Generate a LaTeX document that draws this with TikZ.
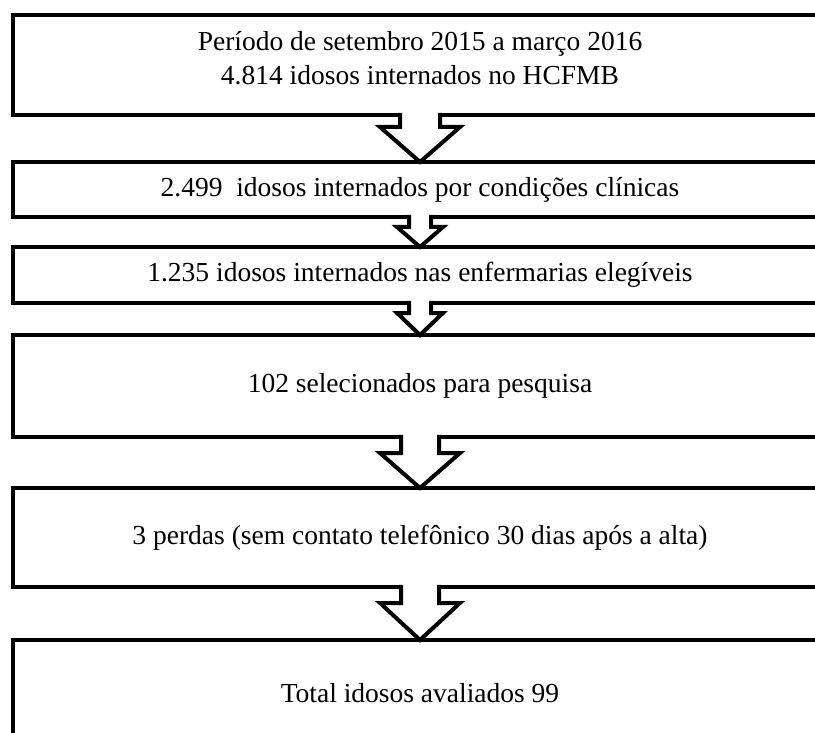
\documentclass[tikz,border=0pt]{standalone}
\usepackage{fontspec}
\setmainfont{Liberation Serif}
\usetikzlibrary{calc}

% block arrow from box #1 to box #2: stem half-width, head half-width, stem length
\newcommand{\flowarrow}[5]{%
  \draw[flowtip] ($(#1.south)+(-#3,-2.2)$) -- ($(#1.south)+(-#3,#5)$)
    -- ($(#1.south)+(-#4,#5)$) -- (#2.north) -- ($(#1.south)+(#4,#5)$)
    -- ($(#1.south)+(#3,#5)$) -- ($(#1.south)+(#3,-2.2)$);
}

\begin{document}
\begin{tikzpicture}[
    x=1pt, y=-1pt,
    stagebox/.style={draw, line width=4pt, fill=white, minimum width=815pt, inner sep=0pt, outer sep=0pt, align=center, font=\fontsize{27.5}{34}\selectfont},
    flowtip/.style={draw, line width=4pt, fill=white, line join=miter}
  ]
  \useasboundingbox (0,0) rectangle (815,733);
  \fill[white] (0,0) rectangle (815,733);
  \clip (0,0) rectangle (815,733);

  % Boxes
  \node[stagebox, minimum height=100pt, text depth=14pt] (periodo) at (420,65) {Período de setembro 2015 a março 2016\\4.814 idosos internados no HCFMB};
  \node[stagebox, minimum height=55pt] (clinicas) at (420,189.5) {2.499\ \ idosos internados por condições clínicas};
  \node[stagebox, minimum height=56pt] (elegiveis) at (420,275) {1.235 idosos internados nas enfermarias elegíveis};
  \node[stagebox, minimum height=102pt] (selecionados) at (420,386) {102 selecionados para pesquisa};
  \node[stagebox, minimum height=99pt] (perdas) at (420,537.5) {3 perdas (sem contato telefônico 30 dias após a alta)};
  \node[stagebox, minimum height=106pt] (avaliados) at (420,693) {Total idosos avaliados 99};

  % Arrows
  \flowarrow{periodo}{clinicas}{20}{40}{12}
  \flowarrow{clinicas}{elegiveis}{11}{23}{10}
  \flowarrow{elegiveis}{selecionados}{11}{23}{10}
  \flowarrow{selecionados}{perdas}{19}{40}{16}
  \flowarrow{perdas}{avaliados}{19}{40}{16}
\end{tikzpicture}
\end{document}
